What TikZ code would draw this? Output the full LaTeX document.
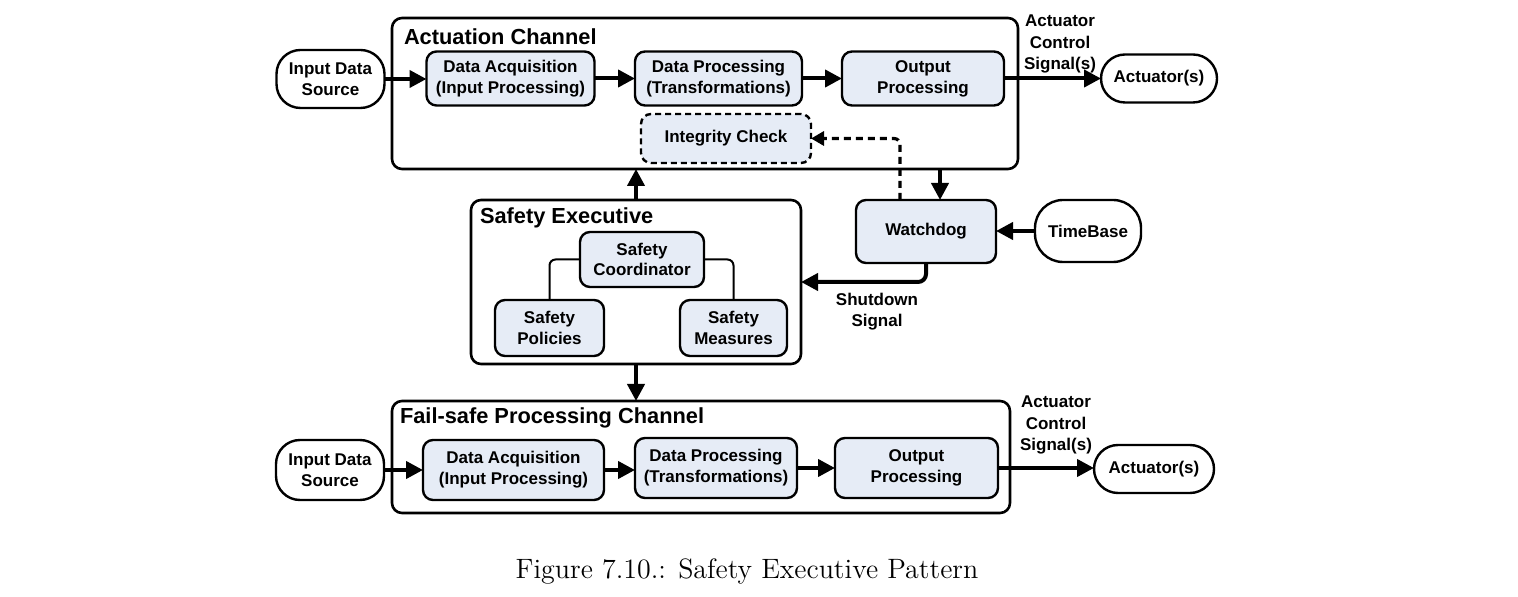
\documentclass[tikz,border=0pt]{standalone}
\usepackage{fontspec}
\newfontfamily\arialf{Liberation Sans}
\usetikzlibrary{arrows.meta,calc}
\definecolor{boxfill}{RGB}{230,236,246}
\begin{document}
\begin{tikzpicture}[x=0.5pt,y=-0.5pt,
  every node/.style={inner sep=0pt, outer sep=0pt},
  blk/.style={draw, rectangle, rounded corners=5pt, line width=1.2pt, fill=boxfill, align=center,
    font=\arialf\bfseries\fontsize{8.5}{10.4}\selectfont},
  term/.style={draw, rectangle, rounded corners=12pt, line width=1.2pt, fill=white, align=center,
    font=\arialf\bfseries\fontsize{8.5}{10.4}\selectfont},
  cont/.style={draw, rectangle, rounded corners=5pt, line width=1.3pt},
  ttl/.style={anchor=west, font=\arialf\bfseries\fontsize{10.9}{13}\selectfont},
  lbl/.style={align=center, font=\arialf\bfseries\fontsize{8.5}{10.6}\selectfont},
  arr/.style={line width=2pt, -{Triangle[length=8.5pt,width=8.5pt]}},
  dasharr/.style={line width=1.6pt, dash pattern=on 3.5pt off 2.5pt, rounded corners=3pt,
    -{Triangle[length=6.5pt,width=7pt]}},
  thin/.style={line width=1pt, rounded corners=3pt}
]
\useasboundingbox (0,0) rectangle (1518,597);

% Actuation channel
\node[cont, minimum width=313pt, minimum height=75.5pt] (chan1) at (705,93.5) {};
\node[ttl] (t1) at (404,37) {Actuation Channel};
\node[term, minimum width=54pt, minimum height=29pt] (in1) at (330.5,79) {Input Data\\Source};
\node[blk, minimum width=84pt, minimum height=27pt] (da1) at (510.5,78.5) {Data Acquisition\\(Input Processing)};
\node[blk, minimum width=83.5pt, minimum height=27pt] (dp1) at (718.5,78.5) {Data Processing\\(Transformations)};
\node[blk, minimum width=81pt, minimum height=27pt] (op1) at (923,78.5) {Output\\Processing};
\node[blk, dashed, dash pattern=on 3pt off 2pt, minimum width=85pt, minimum height=24.5pt] (ic) at (726,138.5) {Integrity Check};
\node[term, minimum width=58pt, minimum height=24pt] (act1) at (1159,78.5) {Actuator(s)};
\node[lbl] (l1) at (1060,44) {Actuator\\Control\\Signal(s)};

% Safety executive
\node[cont, minimum width=165pt, minimum height=82pt] (se) at (636,282) {};
\node[ttl] (t2) at (480,218) {Safety Executive};
\node[blk, minimum width=62pt, minimum height=27.5pt] (sc) at (642,259.5) {Safety\\Coordinator};
\node[blk, minimum width=54.5pt, minimum height=28pt] (sp) at (549.5,328) {Safety\\Policies};
\node[blk, minimum width=53.5pt, minimum height=28pt] (sm) at (733.5,328) {Safety\\Measures};

% Watchdog / timebase
\node[blk, minimum width=70pt, minimum height=31.5pt] (wd) at (926,231.5) {Watchdog};
\node[term, minimum width=53pt, minimum height=31pt, rounded corners=14pt] (tb) at (1088,231) {TimeBase};
\node[lbl] (l2) at (877,312) {Shutdown\\Signal};

% Fail-safe channel
\node[cont, minimum width=309pt, minimum height=56pt] (chan2) at (701,457) {};
\node[ttl] (t3) at (400,418) {Fail-safe Processing Channel};
\node[term, minimum width=54pt, minimum height=30pt] (in2) at (330,470) {Input Data\\Source};
\node[blk, minimum width=90.5pt, minimum height=30pt] (da2) at (513.5,470) {Data Acquisition\\(Input Processing)};
\node[blk, minimum width=81pt, minimum height=30pt] (dp2) at (716,468) {Data Processing\\(Transformations)};
\node[blk, minimum width=81.5pt, minimum height=30pt] (op2) at (916.5,468) {Output\\Processing};
\node[term, minimum width=60pt, minimum height=24pt] (act2) at (1154,469) {Actuator(s)};
\node[lbl] (l3) at (1056,425) {Actuator\\Control\\Signal(s)};

% Caption
\node[font=\fontsize{14}{16}\selectfont] (cap) at (747,572) {Figure 7.10.: Safety Executive Pattern};

% connectors top
\draw[arr] (in1.east) -- (in1.east -| da1.west);
\draw[arr] (da1.east) -- (dp1.west);
\draw[arr] (dp1.east) -- (op1.west);
\draw[arr] (op1.east) -- (op1.east -| act1.west);

\coordinate (wdin) at ([xshift=7pt]wd.north);
\coordinate (wdout) at ([xshift=-13pt]wd.north);
\draw[arr] (chan1.south -| wdin) -- (wdin);
\draw[dasharr] (wdout) |- (ic.east);
\draw[arr] (tb.west) -- (tb.west -| wd.east);
\draw[arr, rounded corners=4pt] (wd.south) |- (se.east);

\draw[arr] (se.north) -- (se.north |- chan1.south);
\draw[arr] (se.south) -- (se.south |- chan2.north);

\draw[thin] (sc.west) -| (sp.north);
\draw[thin] (sc.east) -| (sm.north);

% connectors bottom
\draw[arr] (in2.east) -- (in2.east -| da2.west);
\draw[arr] (da2.east) -- (da2.east -| dp2.west);
\draw[arr] (dp2.east) -- (op2.west);
\draw[arr] (op2.east) -- (op2.east -| act2.west);
\end{tikzpicture}
\end{document}
